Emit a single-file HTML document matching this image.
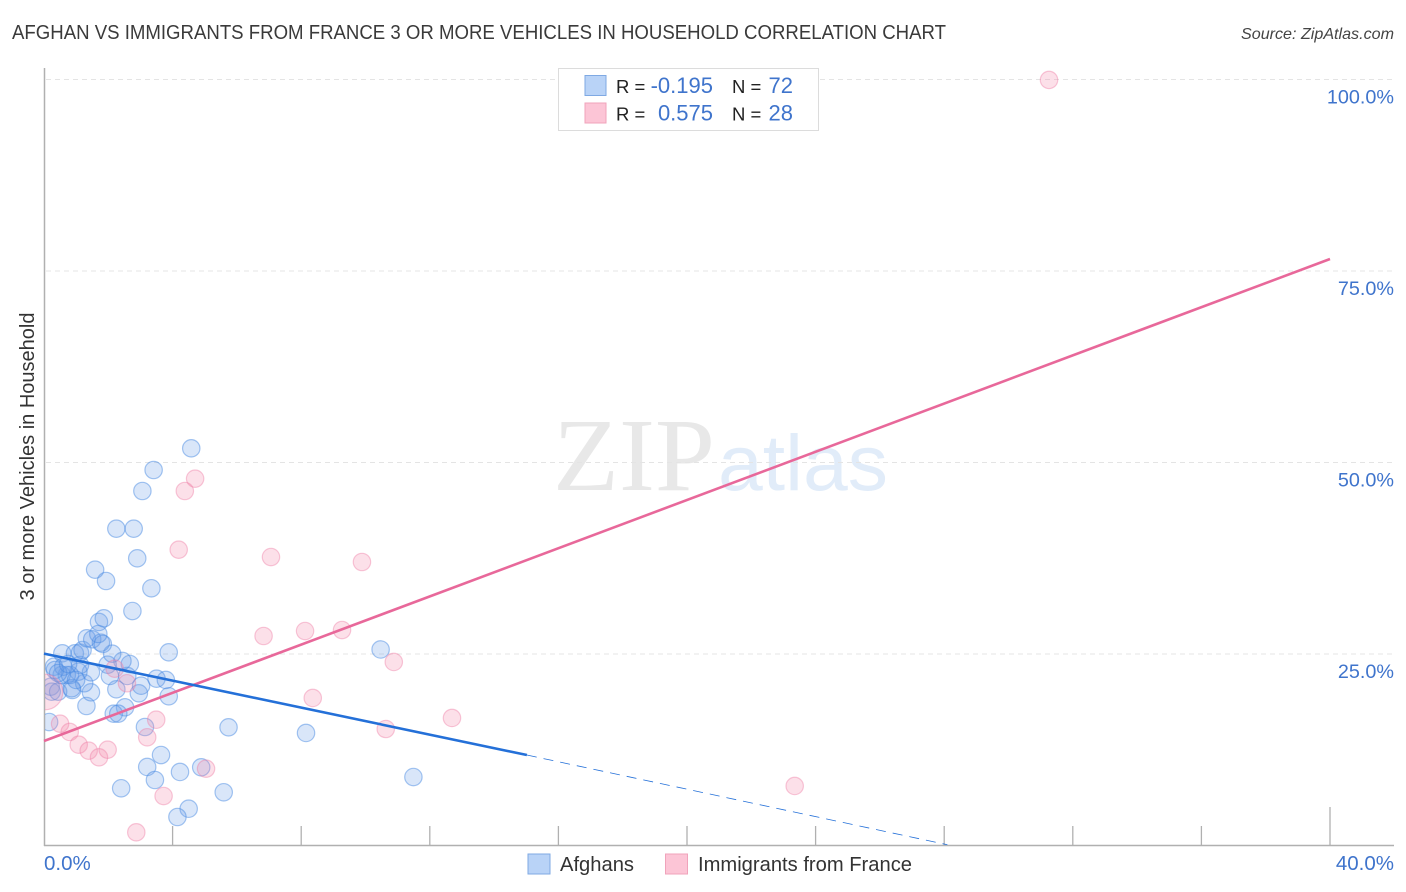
<!DOCTYPE html>
<html lang="en">
<head>
<meta charset="utf-8">
<title>Afghan vs Immigrants from France correlation chart</title>
<style>
html,body{margin:0;padding:0;background:#fff;}
svg{display:block;font-family:"Liberation Sans",sans-serif;}
</style>
</head>
<body>
<svg id="chart" xmlns="http://www.w3.org/2000/svg" width="1406" height="892" viewBox="0 0 1406 892">
  <defs>
    <clipPath id="plot-clip"><rect x="45" y="60" width="1349" height="785"/></clipPath>
  </defs>
  <rect x="0" y="0" width="1406" height="892" fill="#ffffff"/>
  <text x="12" y="39" font-size="20" fill="#3a3a3a" textLength="934" lengthAdjust="spacingAndGlyphs">AFGHAN VS IMMIGRANTS FROM FRANCE 3 OR MORE VEHICLES IN HOUSEHOLD CORRELATION CHART</text>
  <text x="1394" y="39" font-size="16" font-style="italic" fill="#444" text-anchor="end" textLength="153" lengthAdjust="spacingAndGlyphs">Source: ZipAtlas.com</text>

  <g>
    <text x="553" y="490" font-family="'Liberation Serif',serif" font-size="104" fill="#e8e8e8" textLength="162" lengthAdjust="spacingAndGlyphs">ZIP</text>
    <text x="718" y="490" font-size="79" fill="#e1ecf9" textLength="170" lengthAdjust="spacingAndGlyphs">atlas</text>
  </g>

  <g id="grid"></g>
  <g id="xticks"></g>
  <line x1="44.5" y1="68" x2="44.5" y2="846" stroke="#b0b0b0" stroke-width="1.5"/>
  <line x1="44" y1="845.5" x2="1394" y2="845.5" stroke="#b0b0b0" stroke-width="1.5"/>
  <g id="points" clip-path="url(#plot-clip)"></g>
  <g id="trends"></g>
  <g id="ylabels"></g>
  <text x="44" y="870" font-size="20.5" fill="#3f74cc">0.0%</text>
  <text x="1394" y="870" font-size="20.5" fill="#3f74cc" text-anchor="end">40.0%</text>
  <text transform="translate(34,456.500) rotate(-90)" font-size="20" fill="#333" text-anchor="middle">3 or more Vehicles in Household</text>

  <g>
    <rect x="558.5" y="68.5" width="260" height="62" fill="#fff" stroke="#dcdcdc" stroke-width="1"/>
    <rect x="585" y="75.500" width="21" height="20" fill="#b9d3f7" stroke="#7fa9e3" stroke-width="1"/>
    <rect x="585" y="103" width="21" height="20" fill="#fcc5d6" stroke="#f0a3bb" stroke-width="1"/>
    <text x="616" y="93" font-size="18.500" fill="#222">R =</text>
    <text x="713" y="93" font-size="22" fill="#3f74cc" text-anchor="end">-0.195</text>
    <text x="732" y="93" font-size="18.500" fill="#222">N =</text>
    <text x="793" y="93" font-size="22" fill="#3f74cc" text-anchor="end">72</text>
    <text x="616" y="120.500" font-size="18.500" fill="#222">R =</text>
    <text x="713" y="120.500" font-size="22" fill="#3f74cc" text-anchor="end">0.575</text>
    <text x="732" y="120.500" font-size="18.500" fill="#222">N =</text>
    <text x="793" y="120.500" font-size="22" fill="#3f74cc" text-anchor="end">28</text>
  </g>

  <g>
    <rect x="528" y="854" width="22" height="20" fill="#b9d3f7" stroke="#7fa9e3" stroke-width="1"/>
    <text x="560" y="871" font-size="20" fill="#333" textLength="74" lengthAdjust="spacingAndGlyphs">Afghans</text>
    <rect x="665.500" y="854" width="22" height="20" fill="#fcc5d6" stroke="#f0a3bb" stroke-width="1"/>
    <text x="698" y="871" font-size="20" fill="#333" textLength="214" lengthAdjust="spacingAndGlyphs">Immigrants from France</text>
  </g>
</svg>
<script>
const yTickValues = [25, 50, 75, 100];
const yTickLabels = ["25.0%", "50.0%", "75.0%", "100.0%"];
const xTickValues = [4, 8, 12, 16, 20, 24, 28, 32, 36, 40];

const afghanX = [3.88,5.74,3.14,3.64,3.21,4.23,3.45,4.89,2.40,5.59,4.50,4.15,0.16,1.32,2.52,2.17,2.31,2.95,3.88,3.02,3.50,3.79,2.25,1.46,0.88,1.25,2.05,2.59,2.67,2.44,1.98,2.12,1.46,1.07,1.12,0.71,0.55,0.81,0.31,0.57,0.60,0.96,1.12,1.20,1.33,1.50,1.77,1.83,1.69,1.71,1.86,0.21,0.24,0.44,0.86,4.58,3.41,3.06,2.25,2.79,2.90,1.59,1.93,3.34,2.75,10.47,8.15,11.49,0.34,0.44,0.75,1.00];
const afghanY = [25.22,15.43,15.47,11.81,10.25,9.60,8.55,10.21,7.47,6.95,4.80,3.72,16.12,18.21,18.04,17.21,17.21,19.87,19.48,20.86,21.78,21.61,20.39,20.00,20.30,21.18,22.13,22.13,23.69,24.09,23.60,25.04,22.61,22.69,23.56,22.26,22.26,22.26,23.34,25.09,23.34,25.09,25.17,25.52,27.05,26.92,26.48,26.31,27.61,29.18,29.66,20.73,20.08,20.08,20.52,51.85,49.02,46.28,41.36,41.36,37.49,36.01,34.53,33.58,30.61,25.59,14.69,8.94,22.91,22.52,23.69,21.61];

const franceX = [6.83,2.20,2.58,0.03,0.50,0.80,1.08,1.39,1.71,1.98,3.21,3.49,5.04,3.72,2.87,4.70,4.38,4.19,7.06,9.89,8.12,9.27,10.88,8.36,10.63,12.69,23.35,31.26];
const franceY = [27.35,23.08,21.18,20.04,15.90,14.82,13.16,12.38,11.51,12.51,14.13,16.42,10.03,6.46,1.72,47.89,46.28,38.62,37.66,37.01,28.00,28.13,23.96,19.26,15.21,16.65,7.77,99.94];
const franceWeight = [1,1,1,4.2,1,1,1,1,1,1,1,1,1,1,1,1,1,1,1,1,1,1,1,1,1,1,1,1];

const afghanTrendSolidX = [0, 15.02];
const afghanTrendSolidY = [25.05, 11.81];
const afghanTrendDashX = [15.02, 28.1];
const afghanTrendDashY = [11.81, 0.1];
const franceTrendX = [0, 40];
const franceTrendY = [13.64, 76.57];

const NS = "http://www.w3.org/2000/svg";
function xScale(v) { return 44 + v * (1330 - 44) / 40; }
function yScale(v) { return 845.5 - v * (845.5 - 79.5) / 100; }
function make(tag, attrs, parent) {
  const el = document.createElementNS(NS, tag);
  for (const k in attrs) el.setAttribute(k, attrs[k]);
  parent.appendChild(el);
  return el;
}

const grid = document.getElementById("grid");
const ylabels = document.getElementById("ylabels");
yTickValues.forEach(function (v, i) {
  const g = make("line", {x1: 46, x2: 1394, y1: yScale(v), y2: yScale(v), stroke: "#e4e4e4", "stroke-width": 1, "stroke-dasharray": "5 4"}, grid);
  
  
  const t = make("text", {x: 1394, y: yScale(v) + 24, "font-size": 19.8, fill: "#3f74cc", "text-anchor": "end"}, ylabels);
  
  
  t.textContent = yTickLabels[i];
});

const xticks = document.getElementById("xticks");
xTickValues.forEach(function (v) {
  const top = v === 40 ? 807 : 826;
  const t = make("line", {x1: xScale(v), x2: xScale(v), y1: top, y2: 845, stroke: "#b0b0b0", "stroke-width": 1.3}, xticks);
  
  
});

const points = document.getElementById("points");
afghanX.forEach(function (v, i) {
  const c = make("circle", {cx: xScale(v), cy: yScale(afghanY[i]), r: 8.7, fill: "rgba(110,160,232,0.26)", stroke: "rgba(70,135,225,0.48)", "stroke-width": 1.2}, points);
  
  
});
franceX.forEach(function (v, i) {
  const c = make("circle", {cx: xScale(v), cy: yScale(franceY[i]), r: 8.7 * Math.sqrt(franceWeight[i]), fill: "rgba(245,135,170,0.26)", stroke: "rgba(238,125,165,0.42)", "stroke-width": 1.2}, points);
  
  
});

const trends = document.getElementById("trends");
const fl = make("line", {x1: xScale(franceTrendX[0]), y1: yScale(franceTrendY[0]), x2: xScale(franceTrendX[1]), y2: yScale(franceTrendY[1]), stroke: "#e8689a", "stroke-width": 2.6}, trends);


const bl = make("line", {x1: xScale(afghanTrendSolidX[0]), y1: yScale(afghanTrendSolidY[0]), x2: xScale(afghanTrendSolidX[1]), y2: yScale(afghanTrendSolidY[1]), stroke: "#2470d8", "stroke-width": 2.6}, trends);


const dl = make("line", {x1: xScale(afghanTrendDashX[0]), y1: yScale(afghanTrendDashY[0]), x2: xScale(afghanTrendDashX[1]), y2: yScale(afghanTrendDashY[1]), stroke: "#2470d8", "stroke-width": 0.8, "stroke-dasharray": "10 7"}, trends);


</script>
</body>
</html>
